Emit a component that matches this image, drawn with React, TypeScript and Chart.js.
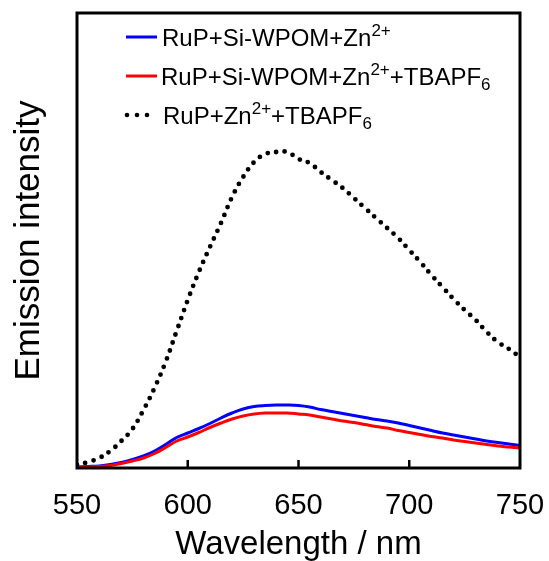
import React, { useEffect, useRef } from 'react';
import { Chart, registerables } from 'chart.js';
Chart.register(...registerables);

const FONT = '"Liberation Sans", Arial, Helvetica, sans-serif';

const wavelengths = [550, 555, 560, 565, 570, 575, 580, 585, 590, 595, 600, 605, 610, 615, 620, 625, 630, 635, 640, 645, 650, 655, 660, 665, 670, 675, 680, 685, 690, 695, 700, 705, 710, 715, 720, 725, 730, 735, 740, 745, 750];

const ruPSiWpomZn = [1, 1.5, 2, 3.5, 5.5, 8.5, 12, 17, 23.5, 30.5, 35, 39.5, 44.5, 50, 55, 59, 61.5, 62.5, 63, 63, 62.5, 61, 58.5, 56.5, 54.5, 52.5, 50.5, 48.5, 47, 45, 42.5, 40, 37.5, 35, 33, 31, 29, 27, 25.5, 24, 22.5];

const ruPSiWpomZnTba = [0.5, 1, 1.5, 2.5, 4.5, 7, 10, 14.5, 20.5, 27, 31, 35.5, 40.5, 45, 49, 52, 54, 55, 55, 55, 54, 53, 51, 49, 47, 45.5, 43.5, 41.5, 40, 37.5, 35.5, 33.5, 31.5, 30, 28, 26.5, 25, 23.5, 22, 21, 20];

const ruPZnTba = [3, 6, 10, 17, 27, 39, 58, 80, 106, 137, 168, 196, 221, 245, 271, 291, 306, 314, 316, 316, 309, 305, 296, 288, 280, 270, 260, 250, 240, 230, 218, 206, 193, 181, 169, 158, 148, 136, 126, 119, 111];

const xTickValues = [550, 600, 650, 700, 750];
const innerTickValues = [600, 650, 700];

const xTitle = 'Wavelength / nm';
const yTitle = 'Emission intensity';

type Part = { t: string; s?: 'sup' | 'sub' };
const legendBlue: Part[] = [{ t: 'RuP+Si-WPOM+Zn' }, { t: '2+', s: 'sup' }];
const legendRed: Part[] = [{ t: 'RuP+Si-WPOM+Zn' }, { t: '2+', s: 'sup' }, { t: '+TBAPF' }, { t: '6', s: 'sub' }];
const legendDot: Part[] = [{ t: 'RuP+Zn' }, { t: '2+', s: 'sup' }, { t: '+TBAPF' }, { t: '6', s: 'sub' }];

const BLUE = '#0000ff';
const RED = '#ff0000';
const BLACK = '#000000';

function drawRich(ctx: CanvasRenderingContext2D, parts: Part[], x: number, baseline: number, size: number) {
  let cx = x;
  ctx.textBaseline = 'alphabetic';
  ctx.textAlign = 'left';
  ctx.fillStyle = BLACK;
  const small = Math.round(size * 0.7);
  for (const p of parts) {
    if (p.s) {
      ctx.font = `${small}px ${FONT}`;
      const by = p.s === 'sup' ? baseline - 10 : baseline + 5;
      ctx.fillText(p.t, cx, by);
      cx += ctx.measureText(p.t).width;
    } else {
      ctx.font = `${size}px ${FONT}`;
      ctx.fillText(p.t, cx, baseline);
      cx += ctx.measureText(p.t).width;
    }
  }
}

const framePlugin = {
  id: 'frameAndLegend',
  afterDraw(chart: any) {
    const { ctx, chartArea } = chart;
    const { left, right, top, bottom } = chartArea;
    const xs = chart.scales.x;
    ctx.save();
    ctx.strokeStyle = BLACK;
    ctx.lineWidth = 2.5;
    for (const v of innerTickValues) {
      const px = xs.getPixelForValue(v);
      ctx.beginPath();
      ctx.moveTo(px, bottom);
      ctx.lineTo(px, bottom - 8);
      ctx.stroke();
    }
    ctx.lineWidth = 3;
    ctx.strokeRect(left, top, right - left, bottom - top);

    const size = 24;
    const rows = [
      { parts: legendBlue, color: BLUE, dotted: false, y: 37, tx: 162 },
      { parts: legendRed, color: RED, dotted: false, y: 76, tx: 161 },
      { parts: legendDot, color: BLACK, dotted: true, y: 115, tx: 163 },
    ];
    for (const r of rows) {
      if (r.dotted) {
        ctx.fillStyle = BLACK;
        for (const dx of [127, 137, 147]) {
          ctx.beginPath();
          ctx.arc(dx, r.y, 2.3, 0, Math.PI * 2);
          ctx.fill();
        }
      } else {
        ctx.strokeStyle = r.color;
        ctx.lineWidth = 3;
        ctx.beginPath();
        ctx.moveTo(126, r.y);
        ctx.lineTo(157, r.y);
        ctx.stroke();
      }
      drawRich(ctx, r.parts, r.tx, r.y + 9, size);
    }
    ctx.restore();
  },
};

export default function App() {
  const ref = useRef<HTMLCanvasElement | null>(null);
  useEffect(() => {
    document.body.style.margin = '0';
    const canvas = ref.current;
    if (!canvas) return;
    const chart = new Chart(canvas, {
      type: 'line',
      data: {
        labels: wavelengths,
        datasets: [
          {
            label: 'RuP+Si-WPOM+Zn2+ +TBAPF6',
            data: wavelengths.map((w, i) => ({ x: w, y: ruPSiWpomZnTba[i] })),
            borderColor: RED,
            borderWidth: 3,
            pointRadius: 0,
            tension: 0.4,
            order: 0,
          },
          {
            label: 'RuP+Si-WPOM+Zn2+',
            data: wavelengths.map((w, i) => ({ x: w, y: ruPSiWpomZn[i] })),
            borderColor: BLUE,
            borderWidth: 3,
            pointRadius: 0,
            tension: 0.4,
            order: 1,
          },
          {
            label: 'RuP+Zn2+ +TBAPF6',
            data: wavelengths.map((w, i) => ({ x: w, y: ruPZnTba[i] })),
            borderColor: BLACK,
            borderWidth: 4.8,
            borderDash: [0, 8.6],
            borderCapStyle: 'round',
            pointRadius: 0,
            tension: 0.4,
            order: 2,
          },
        ],
      },
      options: {
        animation: false,
        responsive: true,
        maintainAspectRatio: false,
        devicePixelRatio: 1,
        layout: { padding: { top: 13, right: 29, left: 0, bottom: 0 } },
        plugins: { legend: { display: false }, tooltip: { enabled: false }, title: { display: false } },
        scales: {
          x: {
            type: 'linear',
            min: 550,
            max: 750,
            grid: { display: false, drawTicks: false },
            border: { display: false },
            afterBuildTicks: (s: any) => {
              s.ticks = xTickValues.map((v) => ({ value: v }));
            },
            afterFit: (s: any) => {
              s.height = 93;
              s.paddingLeft = 0;
              s.paddingRight = 0;
            },
            ticks: {
              color: BLACK,
              font: { family: FONT, size: 29 },
              padding: 21,
              maxRotation: 0,
              autoSkip: false,
            },
            title: {
              display: true,
              text: xTitle,
              color: BLACK,
              font: { family: FONT, size: 33 },
              padding: { top: 0, bottom: -4 },
            },
          },
          y: {
            min: 0,
            max: 455,
            grid: { display: false, drawTicks: false },
            border: { display: false },
            ticks: { display: false },
            afterFit: (s: any) => {
              s.width = 77;
              s.paddingTop = 0;
              s.paddingBottom = 0;
            },
            title: {
              display: true,
              text: yTitle,
              color: BLACK,
              font: { family: FONT, size: 35 },
              padding: { top: 8, bottom: 0 },
            },
          },
        },
      },
      plugins: [framePlugin],
    });
    return () => chart.destroy();
  }, []);
  return (
    <div style={{ position: 'fixed', left: 0, top: 0, width: 549, height: 561, background: '#fff' }}>
      <canvas ref={ref} />
    </div>
  );
}
